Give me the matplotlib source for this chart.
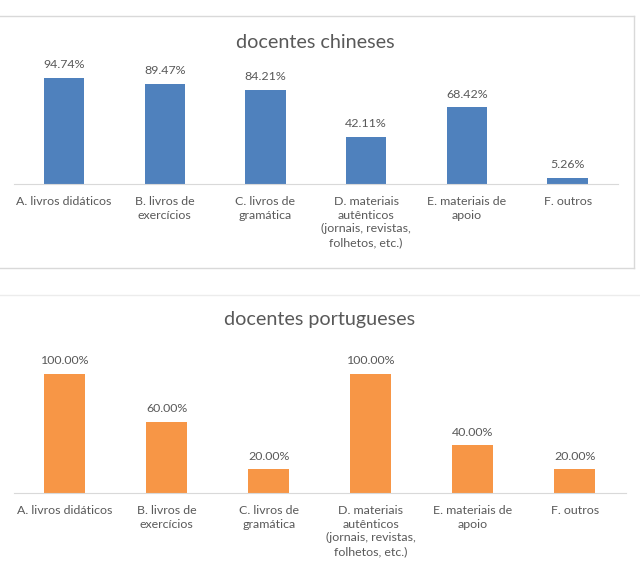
import matplotlib.pyplot as plt
from matplotlib.lines import Line2D

categories = [
    "A. livros didáticos",
    "B. livros de\nexercícios",
    "C. livros de\ngramática",
    "D. materiais\nautênticos\n(jornais, revistas,\nfolhetos, etc.)",
    "E. materiais de\napoio",
    "F. outros",
]
chineses = [0.9474, 0.8947, 0.8421, 0.4211, 0.6842, 0.0526]
portugueses = [1.00, 0.60, 0.20, 1.00, 0.40, 0.20]

W, H = 640, 575
TXT = "#595959"
plt.rcParams["font.family"] = ["Lato", "DejaVu Sans"]

fig = plt.figure(figsize=(W / 100, H / 100), dpi=100)


def px_axes(x0, x1, ybase, ytop):
    return fig.add_axes([x0 / W, 1 - ybase / H, (x1 - x0) / W, (ybase - ytop) / H])


def draw(ax, values, color, title, title_y):
    x = range(len(categories))
    bars = ax.bar(x, values, width=0.4, color=color)
    ax.set_xlim(-0.5, len(categories) - 0.5)
    ax.set_ylim(0, 1)
    for b, v in zip(bars, values):
        ax.annotate(f"{v * 100:.2f}%", (b.get_x() + b.get_width() / 2, v),
                    xytext=(0, 5.5), textcoords="offset points",
                    ha="center", va="bottom", fontsize=8.9, color=TXT)
    ax.set_xticks(list(x))
    ax.set_xticklabels(categories, fontsize=8.9, color=TXT, linespacing=1.3)
    ax.tick_params(axis="x", length=0, pad=8.5)
    ax.set_yticks([])
    for s in ["top", "right", "left"]:
        ax.spines[s].set_visible(False)
    ax.spines["bottom"].set_color("#d9d9d9")
    fig.text(0.5 * (ax.get_position().x0 + ax.get_position().x1), 1 - title_y / H,
             title, ha="center", va="center", fontsize=14.2, color=TXT)


ax1 = px_axes(13.6, 618, 184, 72)
draw(ax1, chineses, "#4F81BD", "docentes chineses", 43)

ax2 = px_axes(13.7, 625.7, 493, 374)
draw(ax2, portugueses, "#F79646", "docentes portugueses", 320)

# chart borders
border = "#d9d9d9"
fig.add_artist(Line2D([0, 634 / W], [1 - 16 / H] * 2, color=border, lw=1))
fig.add_artist(Line2D([634 / W] * 2, [1 - 16 / H, 1 - 268 / H], color=border, lw=1))
fig.add_artist(Line2D([0, 634 / W], [1 - 268 / H] * 2, color=border, lw=1))
fig.add_artist(Line2D([0, 1], [1 - 294.5 / H] * 2, color="#ececec", lw=1))

fig.savefig("out.png", dpi=100)
